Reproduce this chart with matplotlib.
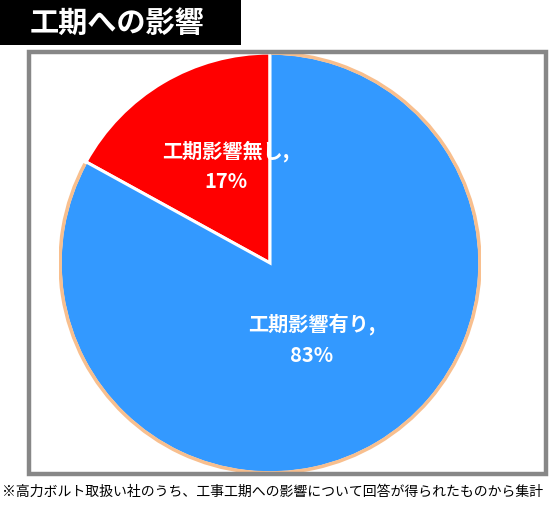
import matplotlib
matplotlib.use('Agg')
import numpy as np
import matplotlib.pyplot as plt
from matplotlib.patches import Rectangle, Arc

plt.rcParams['font.family'] = ['Noto Sans CJK JP', 'DejaVu Sans']

# data
title = '工期への影響'
labels = ['工期影響無し', '工期影響有り']
values = [17, 83]
colors = ['#FF0000', '#3399FF']
footnote = '※高力ボルト取扱い社のうち、工事工期への影響について回答が得られたものから集計'

# label text positions inside the pie (data coords, radius = 1)
label_xy = [(-0.21, 0.465), (0.20, -0.36)]

W, H = 549, 506
fig = plt.figure(figsize=(W / 100, H / 100), dpi=100)

def fx(px):
    return px / W

def fy(py):
    return 1 - py / H

# grey frame
fig.patches.append(Rectangle((fx(28.5), fy(474.5)), fx(546) - fx(28.5), fy(52.5) - fy(474.5),
                             transform=fig.transFigure, fill=False, edgecolor='#878787',
                             linewidth=3.2, zorder=0))

# title box
fig.patches.append(Rectangle((0, fy(46)), fx(241), 1 - fy(46), transform=fig.transFigure,
                             facecolor='black', edgecolor='none', zorder=1))
fig.text(fx(30), fy(23), title, color='white', fontsize=21, fontweight='bold',
         ha='left', va='center')

# pie
cx, cy, r = 270, 264, 211
ax = fig.add_axes([fx(cx - r), fy(cy + r), fx(2 * r), fy(cy - r) - fy(cy + r)])
wedges, _ = ax.pie(values, colors=colors, startangle=90, counterclock=True, radius=1,
                   wedgeprops=dict(edgecolor='white', linewidth=2.2))
ax.set_xlim(-1.005, 1.005)
ax.set_ylim(-1.005, 1.005)
ax.axis('off')

# peach outline on the blue wedge
w = wedges[1]
ax.add_patch(Arc((0, 0), 2.0, 2.0, theta1=w.theta1 + 0.6, theta2=w.theta2 - 0.3,
                 color='#F8BF8E', linewidth=2.5, zorder=3))

for (x, y), lab, v in zip(label_xy, labels, values):
    ax.text(x, y, f'{lab},\n{v}%', color='white', fontsize=14.5, fontweight='bold',
            ha='center', va='center', linespacing=1.55, zorder=4)

fig.text(fx(2), fy(492), footnote, fontsize=10, color='black', ha='left', va='center')

fig.savefig('out.png', dpi=100)
